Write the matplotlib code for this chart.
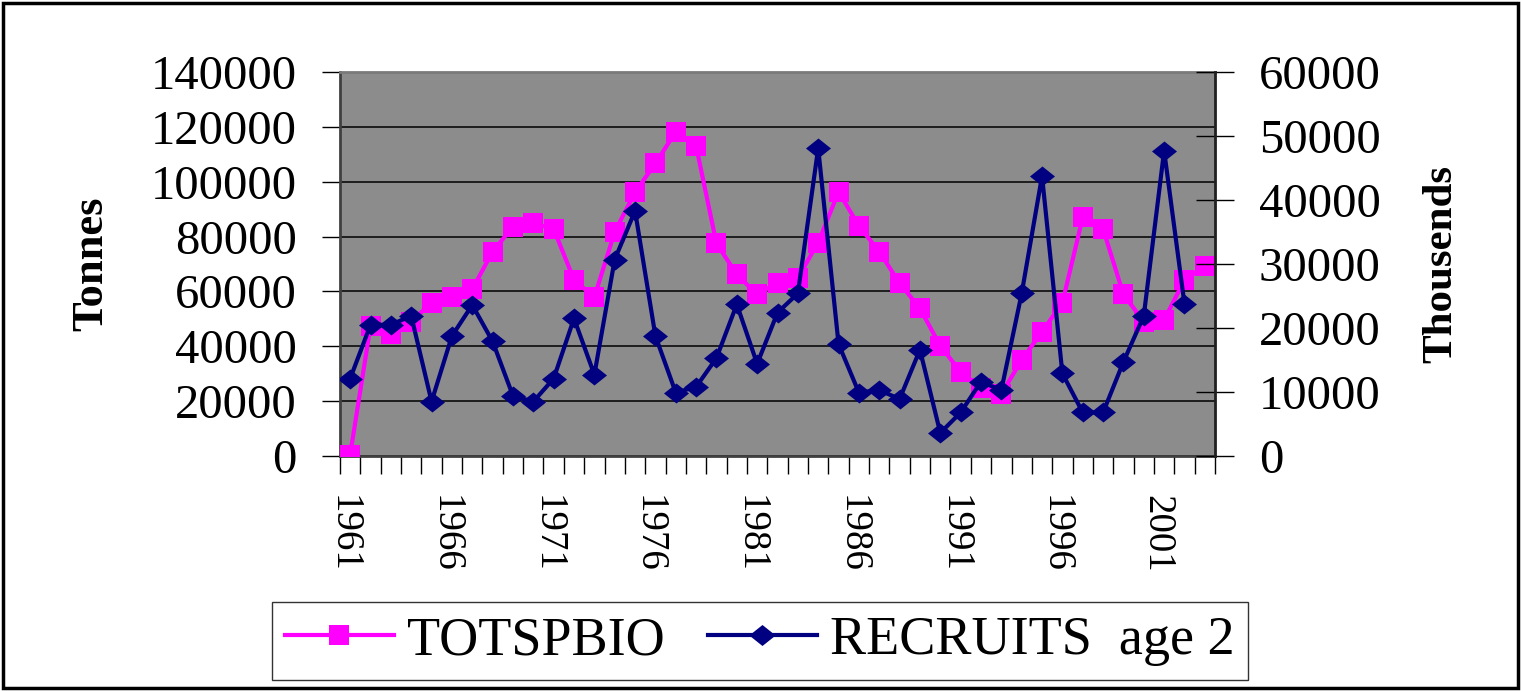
import matplotlib
matplotlib.use("Agg")
import matplotlib.pyplot as plt
import matplotlib.patches as mpatches
import matplotlib.transforms as mtransforms
import numpy as np

years = list(range(1961, 2004))
totspbio = [500, 47400, 44500, 49000, 55900, 58100, 60800, 74500, 83600, 84800,
            82800, 64200, 57900, 81700, 96200, 106700, 118200, 113000, 77500, 66200,
            58900, 63200, 65000, 77800, 96300, 83900, 74500, 63000, 53800, 40100,
            30700, 24700, 22600, 35000, 45300, 55900, 87000, 82800, 58900, 49000,
            49600, 64200, 69300]
recruit_years = list(range(1961, 2003))
recruits = [12100, 20500, 20500, 21900, 8500, 18750, 23600, 17900, 9400, 8500,
            12100, 21500, 12700, 30700, 38300, 18750, 9900, 10800, 15300, 23700,
            14400, 22400, 25400, 48100, 17500, 9900, 10300, 8900, 16600, 3600,
            6800, 11600, 10300, 25400, 43750, 12900, 6800, 6800, 14700, 21900,
            47700, 23750]
left_ticks = [0, 20000, 40000, 60000, 80000, 100000, 120000, 140000]
right_ticks = [0, 10000, 20000, 30000, 40000, 50000, 60000]
label_years = [1961, 1966, 1971, 1976, 1981, 1986, 1991, 1996, 2001]

plt.rcParams['font.family'] = ['Liberation Serif', 'DejaVu Serif']

fig = plt.figure(figsize=(15.21, 6.91), dpi=100)
ax = fig.add_axes([340/1521, 1-456/691, 875/1521, 384/691])
ax.set_facecolor('#8c8c8c')

x1 = np.arange(len(years))
x2 = np.arange(len(recruit_years))

ax.plot(x1, totspbio, color='#ff00ff', lw=3, marker='s', markersize=14,
        markeredgewidth=0, label='TOTSPBIO', zorder=3)
ax.set_ylim(0, 140000)
ax.set_xlim(-0.5, len(years) - 0.5)
ax.set_yticks(left_ticks)
ax.set_yticklabels([str(v) for v in left_ticks])
ax.grid(axis='y', color='black', lw=1.1)
ax.set_axisbelow(True)
ax.tick_params(axis='y', direction='out', length=13, width=1, labelsize=35, pad=18)

# x ticks: boundaries as minor ticks, labels at category centres
ax.set_xticks(np.arange(-0.5, len(years), 1.0), minor=True)
lab_pos = [years.index(y) for y in label_years]
ax.set_xticks(lab_pos)
ax.set_xticklabels([str(y) for y in label_years], rotation=270, fontsize=28,
                   va='top', ha='center')
ax.tick_params(axis='x', which='major', length=0, pad=28)
ax.tick_params(axis='x', which='minor', direction='out', length=13, width=1)
off = mtransforms.ScaledTranslation(-7/100, 0, fig.dpi_scale_trans)
for lbl in ax.get_xticklabels():
    lbl.set_transform(lbl.get_transform() + off)

for s in ['left', 'bottom']:
    ax.spines[s].set_color('#404040')
    ax.spines[s].set_linewidth(2)
ax.spines['top'].set_color('#7a7a7a')
ax.spines['top'].set_linewidth(2)
ax.spines['right'].set_visible(False)

ax.set_ylabel('Tonnes', fontsize=32, fontweight='bold')
ax.yaxis.set_label_coords((111-340)/875, 0.5)

ax2 = ax.twinx()
ax2.patch.set_visible(False)
mk = [(-1.0, 0.0), (0.0, 0.8), (1.0, 0.0), (0.0, -0.8), (-1.0, 0.0)]
ax2.plot(x2, recruits, color='#000080', lw=3, marker=mk, markersize=18,
         markeredgewidth=0, label='RECRUITS  age 2', zorder=4)
ax2.set_ylim(0, 60000)
ax2.set_yticks(right_ticks)
ax2.set_yticklabels([str(v) for v in right_ticks])
ax2.tick_params(axis='y', direction='inout', length=27, width=1, labelsize=35, pad=18)
ax2.spines['right'].set_color('#202020')
ax2.spines['right'].set_linewidth(2)
for s in ['left', 'top', 'bottom']:
    ax2.spines[s].set_visible(False)
ax2.set_ylabel('Thousends', fontsize=31, fontweight='bold')
ax2.yaxis.set_label_coords((1422-340)/875, 0.5)

h1, l1 = ax.get_legend_handles_labels()
h2, l2 = ax2.get_legend_handles_labels()
leg = fig.legend(h1 + h2, l1 + l2, loc='center', ncol=2,
                 bbox_to_anchor=(760/1521, 1-641/691), bbox_transform=fig.transFigure,
                 fontsize=39, frameon=True, fancybox=False, edgecolor='black',
                 handlelength=2.0, handletextpad=0.25, columnspacing=0.8,
                 borderpad=0.25, borderaxespad=0, markerscale=1.05)
leg.get_frame().set_linewidth(1)

border = mpatches.Rectangle((3/1521, 3/691), 1515/1521, 685/691, transform=fig.transFigure,
                            fill=False, edgecolor='black', lw=2.5)
fig.patches.append(border)

fig.savefig('out.png', dpi=100)
